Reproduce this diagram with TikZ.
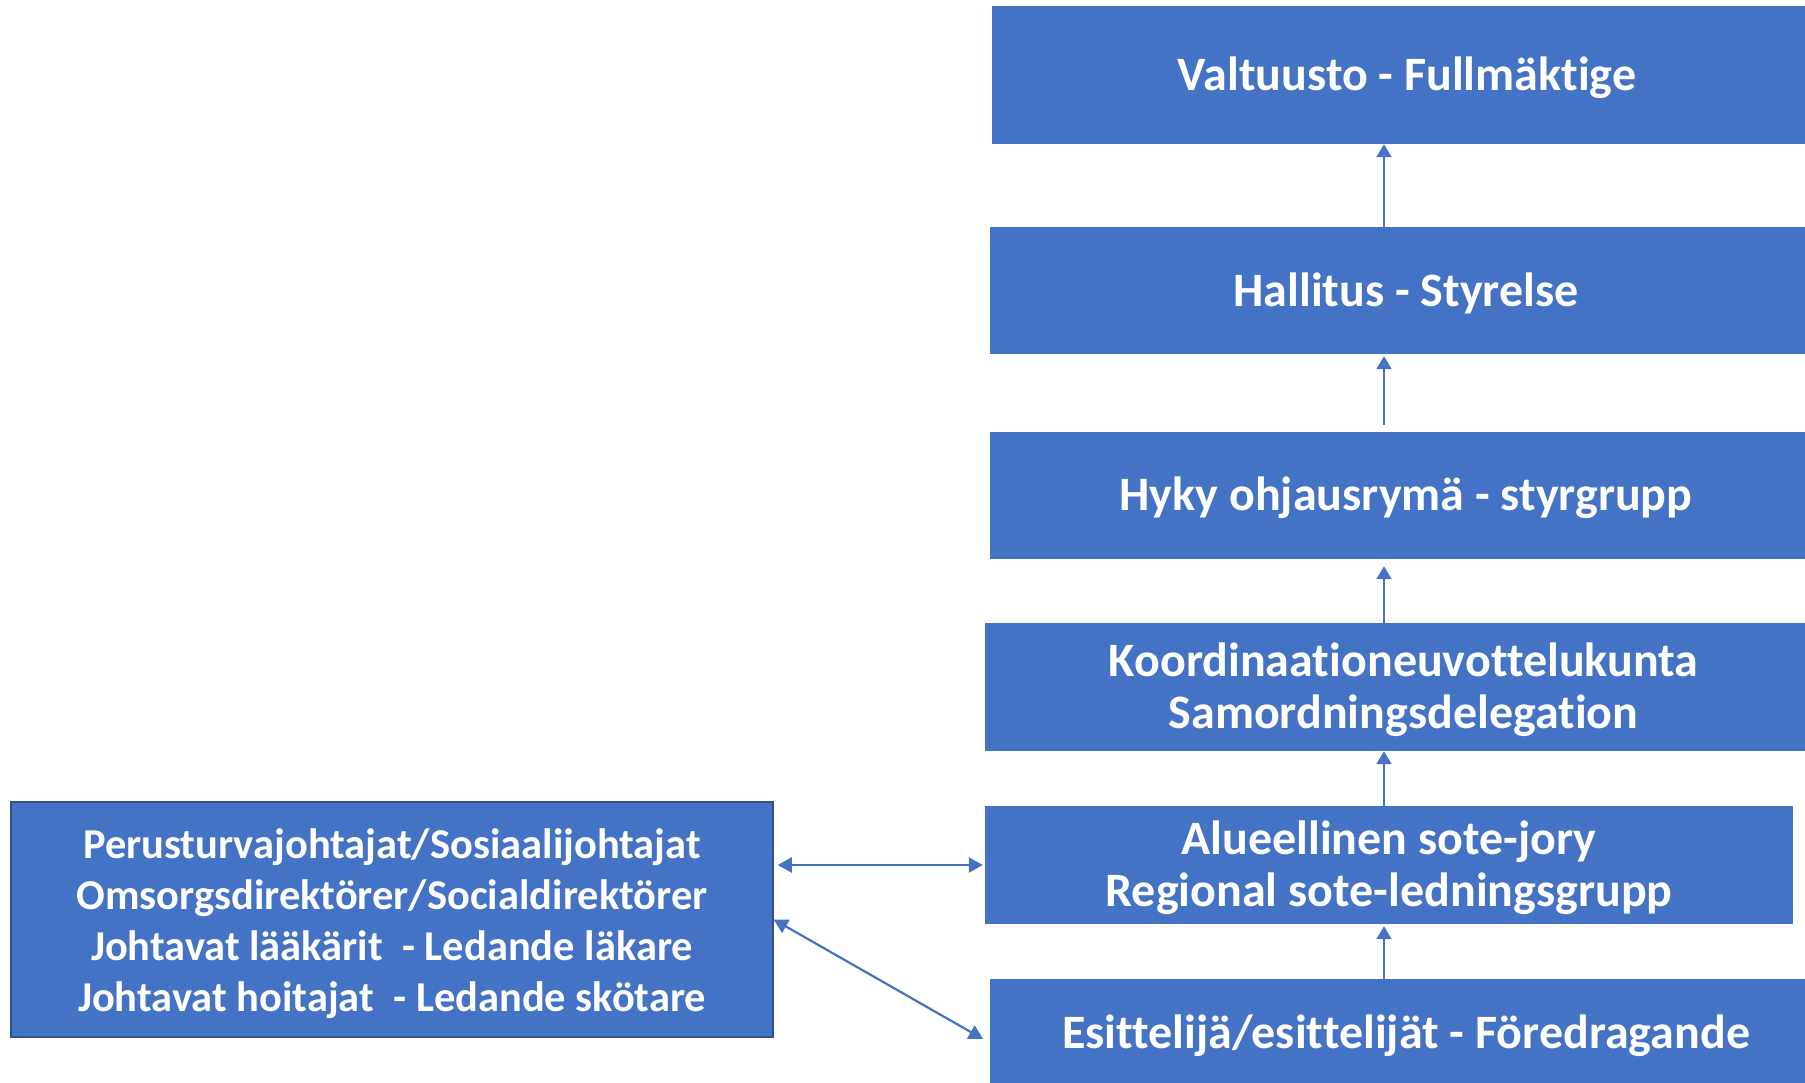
\documentclass[tikz,border=0pt]{standalone}
\usepackage{fontspec}
\setmainfont[Ligatures=NoCommon]{Carlito}
\usetikzlibrary{arrows.meta,calc}
\definecolor{boxblue}{HTML}{4472C4}
\definecolor{boxedge}{HTML}{2F528F}
\begin{document}
\begin{tikzpicture}[x=1pt,y=-1pt,
  mainbox/.style={fill=boxblue, inner sep=0pt},
  maintext/.style={text=white, inner sep=0pt, align=center,
    font=\bfseries\fontsize{48}{52}\selectfont},
  sidebox/.style={fill=boxblue, draw=boxedge, line width=1.5pt, inner sep=0pt},
  sidetext/.style={text=white, inner sep=0pt, align=center,
    font=\bfseries\fontsize{42.5}{51}\selectfont},
  arr/.style={draw=boxblue, line width=2.2pt, -{Triangle[width=15pt,length=13pt]}},
  darr/.style={draw=boxblue, line width=2.2pt, {Triangle[width=15pt,length=14pt]}-{Triangle[width=15pt,length=14pt]}}]
\clip (0,0) rectangle (1805,1082);
\fill[white] (0,0) rectangle (1805,1082);

\node[mainbox, minimum width=830pt, minimum height=138pt] (val) at (1407,75) {};
\node[mainbox, minimum width=832pt, minimum height=127pt] (hal) at (1406,290.5) {};
\node[mainbox, minimum width=832pt, minimum height=127pt] (hyk) at (1406,495.5) {};
\node[mainbox, minimum width=837pt, minimum height=128pt] (koo) at (1403.5,687) {};
\node[mainbox, minimum width=808pt, minimum height=118pt] (alu) at (1389,865) {};
\node[mainbox, minimum width=832pt, minimum height=108pt] (esi) at (1406,1033) {};
\node[sidebox, minimum width=762pt, minimum height=235pt] (left) at (392,919.5) {};

\node[maintext] (valt) at ($(val.center)+(0,2.5)$) {Valtuusto - Fullmäktige};
\node[maintext] (halt) at ($(hal.center)+(0,2.5)$) {Hallitus - Styrelse};
\node[maintext] (hykt) at ($(hyk.center)+(0,2.5)$) {Hyky ohjausrymä - styrgrupp};
\node[maintext] (koot) at ($(koo.center)+(0,2.5)$) {Koordinaationeuvottelukunta\\Samordningsdelegation};
\node[maintext] (alut) at ($(alu.center)+(0,2.5)$) {Alueellinen sote-jory\\Regional sote-ledningsgrupp};
\node[maintext] (esit) at ($(esi.center)+(0,2.5)$) {Esittelijä/esittelijät - Föredragande};
\node[sidetext] (leftt) at ($(left.center)+(0,4)$) {Perusturvajohtajat/Sosiaalijohtajat\\Omsorgsdirektörer/Socialdirektörer\\Johtavat lääkärit \ - Ledande läkare\\Johtavat hoitajat \ - Ledande skötare};

\coordinate (ax) at (1384,0);
\coordinate (dend) at (983,1039);

\draw[arr] (hal.north -| ax) -- (val.south -| ax);
\draw[arr, shorten <=7pt, shorten >=2pt] (hyk.north -| ax) -- (hal.south -| ax);
\draw[arr, shorten >=7pt] (koo.north -| ax) -- (hyk.south -| ax);
\draw[arr] (alu.north -| ax) -- (koo.south -| ax);
\draw[arr, shorten >=2pt] (esi.north -| ax) -- (alu.south -| ax);
\draw[darr, shorten <=4pt, shorten >=2pt] (left.east |- alu.west) -- (alu.west);
\draw[darr] (left.east) -- (dend);
\end{tikzpicture}
\end{document}
